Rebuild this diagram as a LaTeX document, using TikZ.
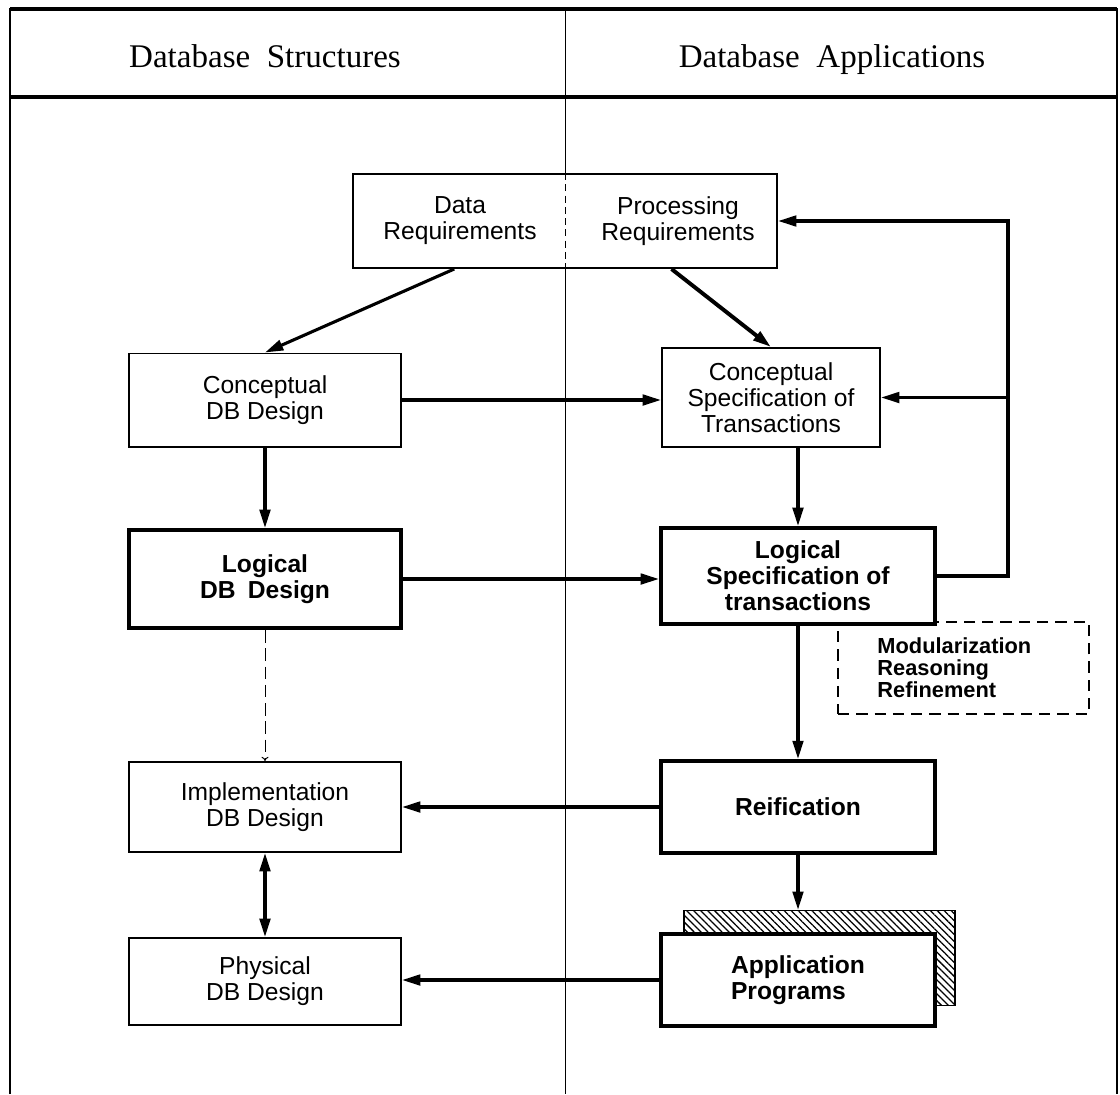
\documentclass[tikz,border=0pt]{standalone}
\usepackage{fontspec}
\setmainfont{Liberation Serif}
\setsansfont{Liberation Sans}
\usetikzlibrary{arrows.meta,calc,patterns.meta}

\begin{document}
\begin{tikzpicture}[x=0.025cm,y=-0.025cm,
box/.style={draw,line width=1.4pt,fill=white,align=center,inner sep=0pt,font=\sffamily\fontsize{17.5}{18.5}\selectfont},
bbox/.style={box,line width=2.8pt,font=\sffamily\bfseries\fontsize{17.5}{18.5}\selectfont},
arr/.style={-{Triangle[length=13pt,width=7.5pt]},line width=2.2pt},
head/.style={anchor=base,font=\fontsize{23.5}{26}\selectfont}
]
\useasboundingbox (0,0) rectangle (1120,1094);
\draw[line width=2pt] (10,1094) -- (10,9) -- (1117,9) -- (1117,1094);
\draw[line width=2.6pt] (10,9) -- (1117,9);
\draw[line width=3.5pt] (10,97) -- (1117,97);
\node[head] (hs) at (265,67) {Database\enspace Structures};
\node[head] (ha) at (832,67) {Database\enspace Applications};

\node[box,minimum width=10.6cm,minimum height=2.35cm] (req) at (565,221) {};
\node[align=center,font=\sffamily\fontsize{17.5}{18.5}\selectfont] (reqd) at (460,221) {Data\\Requirements};
\node[align=center,font=\sffamily\fontsize{17.5}{18.5}\selectfont] (reqp) at (678,221) {Processing\\Requirements};
\draw[line width=0.7pt] (565,9) -- (req.north);
\draw[line width=0.7pt,dash pattern=on 5pt off 3pt] (req.north) -- (req.south);
\draw[line width=0.7pt] (req.south) -- (565,1094);

\node[box,minimum width=6.8cm,minimum height=2.325cm] (cdb) at (265,400) {Conceptual\\DB Design};
\node[box,minimum width=5.45cm,minimum height=2.475cm] (cspec) at (771,397.5) {Conceptual\\Specification of\\Transactions};
\node[bbox,minimum width=6.8cm,minimum height=2.45cm] (ldb) at (265,579) {Logical\\DB\enspace Design};
\node[draw,line width=1.4pt,dash pattern=on 8pt off 5pt,minimum width=6.275cm,minimum height=2.3cm,
  text width=4.3cm,align=left,font=\sffamily\bfseries\fontsize{15.5}{15.6}\selectfont] (mod) at (963.5,668) {Modularization\\Reasoning\\Refinement};
\node[bbox,minimum width=6.85cm,minimum height=2.4cm] (lspec) at (798,576) {Logical\\Specification of\\transactions};
\node[box,minimum width=6.8cm,minimum height=2.25cm] (impl) at (265,807) {Implementation\\DB Design};
\node[bbox,minimum width=6.85cm,minimum height=2.3cm] (reif) at (798,807) {Reification};
\node[box,minimum width=6.8cm,minimum height=2.175cm] (phys) at (265,981.5) {Physical\\DB Design};
\node[draw,line width=1.2pt,pattern={Lines[angle=-45,distance=3.5pt,line width=0.9pt]},minimum width=6.775cm,minimum height=2.375cm] (appsh) at (819.5,958) {};
\node[bbox,minimum width=6.85cm,minimum height=2.3cm,align=left] (app) at (798,980) {Application\\Programs};

\coordinate (fb) at (1008,576);
\draw[arr] ($(req.south west)!0.24!(req.south east)$) -- (cdb.north);
\draw[arr,line width=2.8pt] ($(req.south west)!0.75!(req.south east)$) -- (cspec.north);
\draw[arr] (cdb.east) -- (cdb.east -| cspec.west);
\draw[arr] (cdb) -- (ldb);
\draw[arr] (cspec.south -| lspec.north) -- (lspec.north);
\draw[arr] (ldb.east) -- (ldb.east -| lspec.west);
\draw[arr] (lspec.east) -- (fb) |- (req.east);
\draw[arr] (fb |- cspec.east) -- (cspec.east);
\draw[line width=0.7pt,dash pattern=on 9pt off 4pt,-{To[length=3pt,width=5pt]}] (ldb) -- (impl);
\draw[arr] (lspec) -- (reif);
\draw[arr] (reif) -- (impl);
\draw[arr,{Triangle[length=13pt,width=7.5pt]}-{Triangle[length=13pt,width=7.5pt]}] (impl) -- (phys);
\draw[arr] (reif.south) -- (reif.south |- appsh.north);
\draw[arr] (app.west) -- (app.west -| phys.east);
\end{tikzpicture}
\end{document}
